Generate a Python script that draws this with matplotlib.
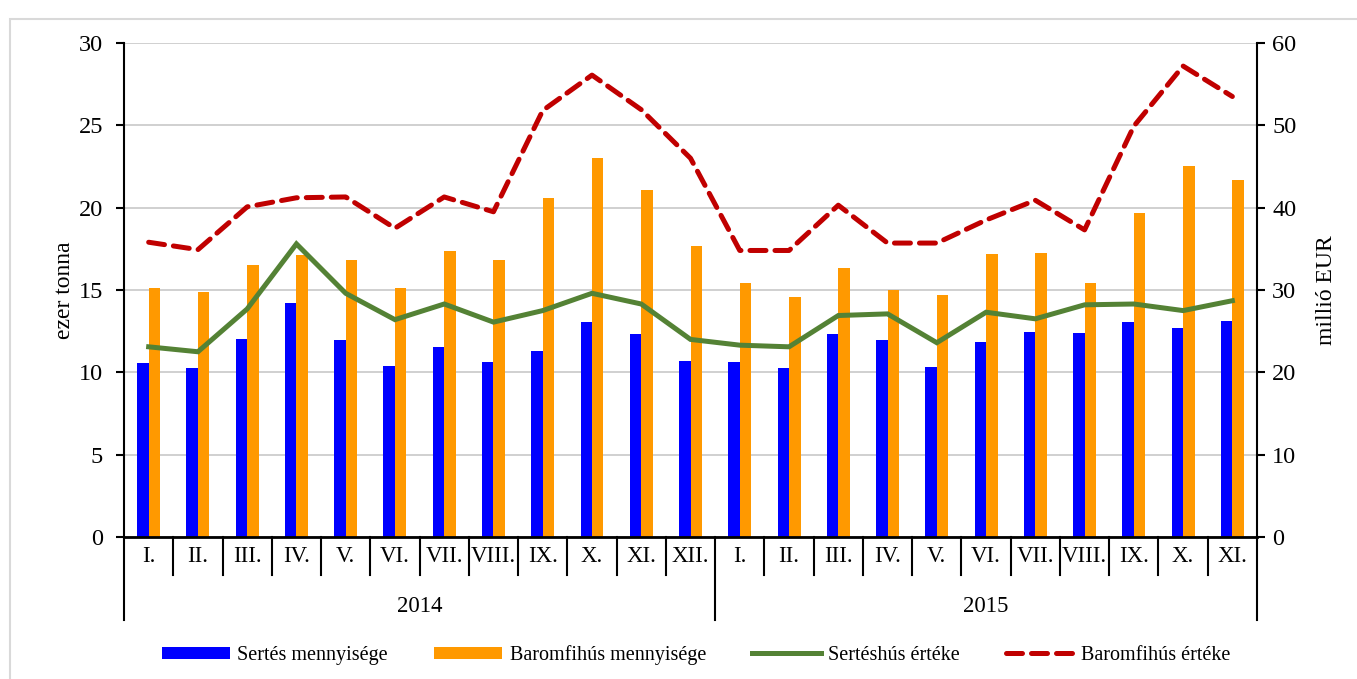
import numpy as np
import matplotlib.pyplot as plt
from matplotlib.patches import Rectangle
from matplotlib.transforms import blended_transform_factory

plt.rcParams['font.family'] = ['Liberation Serif', 'DejaVu Serif']

# data
months = ['I.', 'II.', 'III.', 'IV.', 'V.', 'VI.', 'VII.', 'VIII.', 'IX.', 'X.', 'XI.', 'XII.',
          'I.', 'II.', 'III.', 'IV.', 'V.', 'VI.', 'VII.', 'VIII.', 'IX.', 'X.', 'XI.']
years = ['2014', '2015']
year_counts = [12, 11]

sertes_menny = [10.55, 10.25, 12.05, 14.2, 11.95, 10.4, 11.55, 10.65, 11.3, 13.05, 12.3, 10.7,
                10.65, 10.25, 12.3, 11.95, 10.3, 11.85, 12.45, 12.4, 13.05, 12.7, 13.1]
baromfi_menny = [15.1, 14.9, 16.5, 17.1, 16.8, 15.15, 17.35, 16.8, 20.6, 23.0, 21.05, 17.7,
                 15.45, 14.6, 16.35, 15.0, 14.7, 17.2, 17.25, 15.4, 19.7, 22.5, 21.7]
sertes_ertek = [23.1, 22.5, 27.7, 35.6, 29.6, 26.4, 28.3, 26.1, 27.5, 29.6, 28.3, 24.0,
                23.3, 23.1, 26.9, 27.1, 23.6, 27.3, 26.5, 28.2, 28.3, 27.5, 28.7]
baromfi_ertek = [35.8, 34.9, 40.1, 41.2, 41.3, 37.5, 41.3, 39.5, 51.8, 56.1, 51.9, 46.0,
                 34.8, 34.8, 40.3, 35.7, 35.7, 38.5, 40.9, 37.3, 49.9, 57.2, 53.5]

fig = plt.figure(figsize=(13.57, 6.79), dpi=100)
ax = fig.add_axes([0.0914, 0.2091, 0.8349, 0.7276])
ax2 = ax.twinx()

x = np.arange(len(months))
w = 0.233
b1 = ax.bar(x - w / 2, sertes_menny, width=w, color='#0000FF', label='Sertés mennyisége', zorder=2)
b2 = ax.bar(x + w / 2, baromfi_menny, width=w, color='#FF9900', label='Baromfihús mennyisége', zorder=2)

l1, = ax2.plot(x, sertes_ertek, color='#548235', lw=3.6, label='Sertéshús értéke',
               solid_joinstyle='miter')
l2, = ax2.plot(x, baromfi_ertek, color='#C00000', lw=3.6, dashes=(3.2, 1.8),
               label='Baromfihús értéke', dash_capstyle='round')

ax.set_xlim(-0.5, len(months) - 0.5)
ax.set_ylim(0, 30)
ax.set_yticks(np.arange(0, 31, 5))
ax2.set_ylim(0, 60)
ax2.set_yticks(np.arange(0, 61, 10))
ax.yaxis.grid(True, color='#C8C8C8', lw=1.2, zorder=0)
ax.set_axisbelow(True)

for a in (ax, ax2):
    a.spines['top'].set_visible(False)
    a.tick_params(axis='y', labelsize=17.5, length=6, width=1.5, direction='out')
ax.tick_params(axis='y', pad=9)
ax2.tick_params(axis='y', pad=5)
ax.spines['right'].set_visible(False)
ax2.spines['left'].set_visible(False)
ax.spines['left'].set_linewidth(1.5)
ax2.spines['right'].set_linewidth(1.5)
ax.spines['bottom'].set_linewidth(2)
ax2.spines['bottom'].set_visible(False)

ax.set_xticks([])
ax.set_ylabel('ezer tonna', fontsize=17, labelpad=3)
ax2.set_ylabel('millió EUR', fontsize=17, labelpad=14)

# category axis with month and year separators
tr = blended_transform_factory(ax.transData, ax.transAxes)
for i, m in enumerate(months):
    ax.text(i, -0.04, m, transform=tr, ha='center', va='center', fontsize=16.5)
bounds = np.cumsum([0] + year_counts)
for b in range(len(months) + 1):
    yb = -0.168 if b in bounds else -0.077
    ax.plot([b - 0.5, b - 0.5], [0, yb], transform=tr, color='black', lw=1.5, clip_on=False)
for k, yr in enumerate(years):
    mid = (bounds[k] + bounds[k + 1] - 1) / 2
    ax.text(mid, -0.14, yr, transform=tr, ha='center', va='center', fontsize=16.5)

leg = fig.legend([b1, b2, l1, l2],
                 ['Sertés mennyisége', 'Baromfihús mennyisége', 'Sertéshús értéke', 'Baromfihús értéke'],
                 loc='center', bbox_to_anchor=(0.513, 0.035), ncol=4, frameon=False,
                 fontsize=14.5, handlelength=3.4, handletextpad=0.35, columnspacing=2.3,
                 handleheight=0.6)

# outer frame
fig.patches.append(Rectangle((10 / 1357, -0.1), 1.2, 1.1 - 19 / 679, transform=fig.transFigure,
                             fill=False, edgecolor='#D9D9D9', lw=1.5))

fig.savefig('out.png', dpi=100)
